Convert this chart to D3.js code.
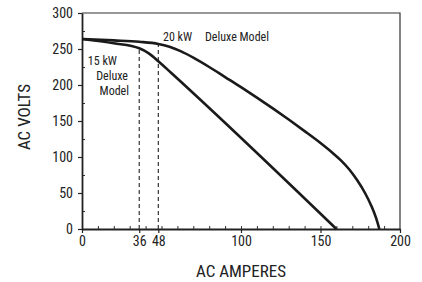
<!DOCTYPE html>
<html>
<head>
<meta charset="utf-8">
<script src="https://cdn.jsdelivr.net/npm/d3@7"></script>
<style>
  body { margin: 0; background: #fff; }
  text { font-family: "Liberation Sans Narrow", "Roboto Condensed", "Arial Narrow", sans-serif; fill: #222; }
</style>
</head>
<body>
<div id="chart"></div>
<script>
// AC amperes vs AC volts
var model20 = [[0, 264], [20, 262], [36, 260], [48, 257], [55, 253], [62, 247], [70, 238],
  [80, 225], [90, 211], [100, 197], [110, 182.5], [120, 167.5], [130, 152], [140, 136],
  [150, 119.5], [158, 105], [163, 95], [168, 83], [173, 68], [178, 50], [182, 32], [185, 15], [187, 0]]
var model15 = [[0, 264], [20, 258], [36, 251], [42, 244], [48, 233], [56, 217], [160, 0]]

var markers = [[36, 251], [48, 257]]   // dashed drop lines
var xTicks = [0, 36, 48, 100, 150, 200]
var yTicks = [0, 50, 100, 150, 200, 250, 300]

var margin = { top: 13, right: 22, bottom: 53, left: 82 }
var width = 422 - margin.left - margin.right,
    height = 282 - margin.top - margin.bottom

var svg = d3.select("#chart").append("svg")
    .attr("width", 422)
    .attr("height", 282)
    .append("g")
    .attr("transform", "translate(" + margin.left + "," + margin.top + ")")

var x = d3.scaleLinear().domain([0, 200]).range([0, width])
var y = d3.scaleLinear().domain([0, 300]).range([height, 0])

// frame (top and right)
svg.append("path")
  .attr("d", "M0,0H" + width + "V" + height)
  .attr("fill", "none")
  .attr("stroke", "#333")
  .attr("stroke-width", 1.2)

// minor ticks, inside
svg.append("g")
  .attr("transform", "translate(0," + height + ")")
  .call(d3.axisTop(x).tickValues(d3.range(10, 200, 10)).tickSize(3).tickFormat(""))
  .call(g => g.select(".domain").remove())
  .selectAll("line").attr("stroke", "#333")

svg.append("g")
  .call(d3.axisRight(y).tickValues(d3.range(25, 300, 50)).tickSize(3).tickFormat(""))
  .call(g => g.select(".domain").remove())
  .selectAll("line").attr("stroke", "#333")

// major axes
var xAxis = svg.append("g")
  .attr("class", "axis x-axis")
  .attr("transform", "translate(0," + height + ")")
  .call(d3.axisBottom(x).tickValues(xTicks).tickSizeInner(4).tickSizeOuter(0).tickPadding(3))
xAxis.select(".domain").attr("stroke", "#222").attr("stroke-width", 1.8)
xAxis.selectAll("line").attr("stroke", "#222").attr("stroke-width", 1.2)
xAxis.selectAll("text").attr("font-size", 14).style("fill", "#222")

var yAxis = svg.append("g")
  .attr("class", "axis y-axis")
  .call(d3.axisLeft(y).tickValues(yTicks).tickSizeInner(4).tickSizeOuter(0).tickPadding(5))
yAxis.select(".domain").attr("stroke", "#222").attr("stroke-width", 1.8)
yAxis.selectAll("line").attr("stroke", "#222").attr("stroke-width", 1.2)
yAxis.selectAll("text").attr("font-size", 14).style("fill", "#222")

// dashed drop lines
svg.selectAll(".drop")
  .data(markers)
  .enter().append("line")
  .attr("class", "drop")
  .attr("x1", function (d) { return x(d[0]) })
  .attr("x2", function (d) { return x(d[0]) })
  .attr("y1", y(0))
  .attr("y2", function (d) { return y(d[1]) })
  .attr("stroke", "#333")
  .attr("stroke-width", 1.2)
  .attr("stroke-dasharray", "4,3")

var line = d3.line()
  .x(function (d) { return x(d[0]) })
  .y(function (d) { return y(d[1]) })
  .curve(d3.curveMonotoneX)

svg.selectAll(".curve")
  .data([model20, model15])
  .enter().append("path")
  .attr("class", "curve")
  .attr("d", line)
  .attr("fill", "none")
  .attr("stroke", "#1a1a1a")
  .attr("stroke-width", 2.6)

// labels
svg.append("text").attr("x", 81).attr("y", 28).attr("font-size", 12).text("20 kW")
svg.append("text").attr("x", 123).attr("y", 28).attr("font-size", 12).text("Deluxe Model")
svg.append("text").attr("x", 35).attr("y", 52).attr("text-anchor", "end").attr("font-size", 12).text("15 kW")
svg.append("text").attr("x", 46).attr("y", 67).attr("text-anchor", "end").attr("font-size", 12).text("Deluxe")
svg.append("text").attr("x", 47).attr("y", 82).attr("text-anchor", "end").attr("font-size", 12).text("Model")

svg.append("text")
  .attr("x", width / 2).attr("y", height + 48)
  .attr("text-anchor", "middle").attr("font-size", 17)
  .text("AC AMPERES")

svg.append("text")
  .attr("transform", "translate(-52," + (height / 2 - 4) + ") rotate(-90)")
  .attr("text-anchor", "middle").attr("font-size", 17)
  .text("AC VOLTS")
</script>
</body>
</html>
